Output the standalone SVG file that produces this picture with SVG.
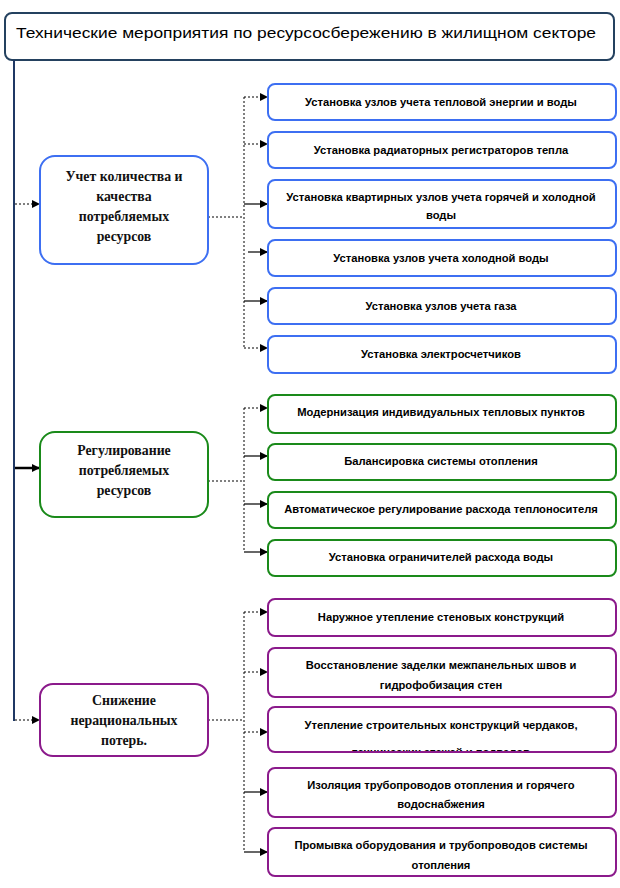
<svg xmlns="http://www.w3.org/2000/svg" width="620" height="888" viewBox="0 0 620 888">
<style>
.box{fill:#fff;stroke-width:2}
.blue{stroke:#3d6ff2}
.green{stroke:#1a8a1a}
.purple{stroke:#8b1a8b}
.lt{font-family:"Liberation Serif","Times New Roman",serif;font-weight:bold;font-size:13.8px;fill:#111;text-anchor:middle}
.rt{font-family:"Liberation Sans",Arial,sans-serif;font-weight:bold;font-size:11.2px;fill:#000;text-anchor:middle}
.dot{stroke:#000;stroke-width:1;stroke-dasharray:2,2;fill:none}
.sol{stroke:#000;stroke-width:1.2;fill:none}
</style>
<defs>
<marker id="ah" markerWidth="8" markerHeight="8" refX="8" refY="4" orient="auto" markerUnits="userSpaceOnUse">
<path d="M0,0 L8,4 L0,8 Z" fill="#000"/>
</marker>
<clipPath id="clip3"><rect x="268" y="707" width="348" height="44"/></clipPath>
</defs>
<rect width="620" height="888" fill="#fff"/>

<g id="title">
<rect x="5" y="13" width="609" height="47" rx="7" fill="#fff" stroke="#24415f" stroke-width="2"/>
<text x="16" y="38" font-family="'Liberation Sans',Arial,sans-serif" font-size="15.5" fill="#000" textLength="580" lengthAdjust="spacingAndGlyphs">Технические мероприятия по ресурсосбережению в жилищном секторе</text>
</g>

<g id="connectors">
<line x1="14" y1="60" x2="14" y2="721" stroke="#1f3864" stroke-width="2"/>
<line x1="15" y1="204" x2="40" y2="204" class="dot" marker-end="url(#ah)"/>
<line x1="15" y1="468" x2="40" y2="468" stroke="#000" stroke-width="2.5" marker-end="url(#ah)"/>
<line x1="15" y1="720" x2="40" y2="720" class="dot" marker-end="url(#ah)"/>

<line x1="208" y1="217" x2="244" y2="217" class="dot"/>
<line x1="244" y1="97" x2="244" y2="348" class="dot"/>
<line x1="244" y1="97" x2="268" y2="97" class="dot" marker-end="url(#ah)"/>
<line x1="244" y1="144" x2="268" y2="144" class="dot" marker-end="url(#ah)"/>
<line x1="244" y1="204" x2="268" y2="204" class="sol" marker-end="url(#ah)"/>
<line x1="248" y1="252" x2="268" y2="252" class="sol" marker-end="url(#ah)"/>
<line x1="244" y1="301" x2="268" y2="301" class="sol" marker-end="url(#ah)"/>
<line x1="244" y1="348" x2="268" y2="348" class="dot" marker-end="url(#ah)"/>

<line x1="208" y1="481" x2="244" y2="481" class="dot"/>
<line x1="244" y1="408" x2="244" y2="552" class="dot"/>
<line x1="244" y1="408" x2="268" y2="408" class="dot" marker-end="url(#ah)"/>
<line x1="244" y1="456" x2="268" y2="456" class="sol" marker-end="url(#ah)"/>
<line x1="244" y1="504" x2="268" y2="504" class="sol" marker-end="url(#ah)"/>
<line x1="244" y1="552" x2="268" y2="552" class="sol" marker-end="url(#ah)"/>

<line x1="208" y1="720" x2="244" y2="720" class="dot"/>
<line x1="244" y1="612" x2="244" y2="852" class="dot"/>
<line x1="244" y1="612" x2="268" y2="612" class="dot" marker-end="url(#ah)"/>
<line x1="244" y1="672" x2="268" y2="672" class="dot" marker-end="url(#ah)"/>
<line x1="244" y1="732" x2="268" y2="732" class="dot" marker-end="url(#ah)"/>
<line x1="244" y1="792" x2="268" y2="792" class="sol" marker-end="url(#ah)"/>
<line x1="244" y1="852" x2="268" y2="852" class="sol" marker-end="url(#ah)"/>
</g>

<g id="n-uchet">
<rect x="40" y="156" width="168" height="108" rx="15" class="box blue"/>
<text class="lt" x="124" y="181">Учет количества и</text>
<text class="lt" x="124" y="201">качества</text>
<text class="lt" x="124" y="221">потребляемых</text>
<text class="lt" x="124" y="241">ресурсов</text>
</g>
<g id="n-regul">
<rect x="40" y="432" width="168" height="85" rx="15" class="box green"/>
<text class="lt" x="124" y="455">Регулирование</text>
<text class="lt" x="124" y="475">потребляемых</text>
<text class="lt" x="124" y="495">ресурсов</text>
</g>
<g id="n-snizh">
<rect x="40" y="684" width="168" height="72" rx="13" class="box purple"/>
<text class="lt" x="124" y="705">Снижение</text>
<text class="lt" x="124" y="725">нерациональных</text>
<text class="lt" x="124" y="745">потерь.</text>
</g>

<g id="b1"><rect x="268" y="84" width="348" height="36" rx="7" class="box blue"/><text class="rt" x="441" y="106">Установка узлов учета тепловой энергии и воды</text></g>
<g id="b2"><rect x="268" y="132" width="348" height="36" rx="7" class="box blue"/><text class="rt" x="441" y="154">Установка радиаторных регистраторов тепла</text></g>
<g id="b3"><rect x="268" y="180" width="348" height="48" rx="7" class="box blue"/><text class="rt" x="441" y="201">Установка квартирных узлов учета горячей и холодной</text><text class="rt" x="441" y="219">воды</text></g>
<g id="b4"><rect x="268" y="240" width="348" height="36" rx="7" class="box blue"/><text class="rt" x="441" y="262">Установка узлов учета холодной воды</text></g>
<g id="b5"><rect x="268" y="288" width="348" height="36" rx="7" class="box blue"/><text class="rt" x="441" y="310">Установка узлов учета газа</text></g>
<g id="b6"><rect x="268" y="336" width="348" height="37" rx="7" class="box blue"/><text class="rt" x="441" y="358">Установка электросчетчиков</text></g>

<g id="g1"><rect x="268" y="395" width="348" height="38" rx="7" class="box green"/><text class="rt" x="441" y="416">Модернизация  индивидуальных тепловых пунктов</text></g>
<g id="g2"><rect x="268" y="444" width="348" height="36" rx="7" class="box green"/><text class="rt" x="441" y="465">Балансировка системы отопления</text></g>
<g id="g3"><rect x="268" y="492" width="348" height="36" rx="7" class="box green"/><text class="rt" x="441" y="513">Автоматическое  регулирование расхода теплоносителя</text></g>
<g id="g4"><rect x="268" y="540" width="348" height="36" rx="7" class="box green"/><text class="rt" x="441" y="561">Установка ограничителей расхода воды</text></g>

<g id="p1"><rect x="268" y="599" width="348" height="37" rx="7" class="box purple"/><text class="rt" x="441" y="621">Наружное утепление  стеновых конструкций</text></g>
<g id="p2"><rect x="268" y="648" width="348" height="49" rx="7" class="box purple"/><text class="rt" x="441" y="669">Восстановление заделки межпанельных швов  и</text><text class="rt" x="441" y="689">гидрофобизация стен</text></g>
<g id="p3"><rect x="268" y="707" width="348" height="45" rx="7" class="box purple"/><text class="rt" x="441" y="729">Утепление  строительных конструкций чердаков,</text><text class="rt" x="441" y="756" clip-path="url(#clip3)">технических этажей и подвалов</text></g>
<g id="p4"><rect x="268" y="768" width="348" height="49" rx="7" class="box purple"/><text class="rt" x="441" y="789">Изоляция трубопроводов  отопления и горячего</text><text class="rt" x="441" y="808">водоснабжения</text></g>
<g id="p5"><rect x="268" y="828" width="348" height="48" rx="7" class="box purple"/><text class="rt" x="441" y="849">Промывка оборудования и трубопроводов  системы</text><text class="rt" x="441" y="869">отопления</text></g>
</svg>
